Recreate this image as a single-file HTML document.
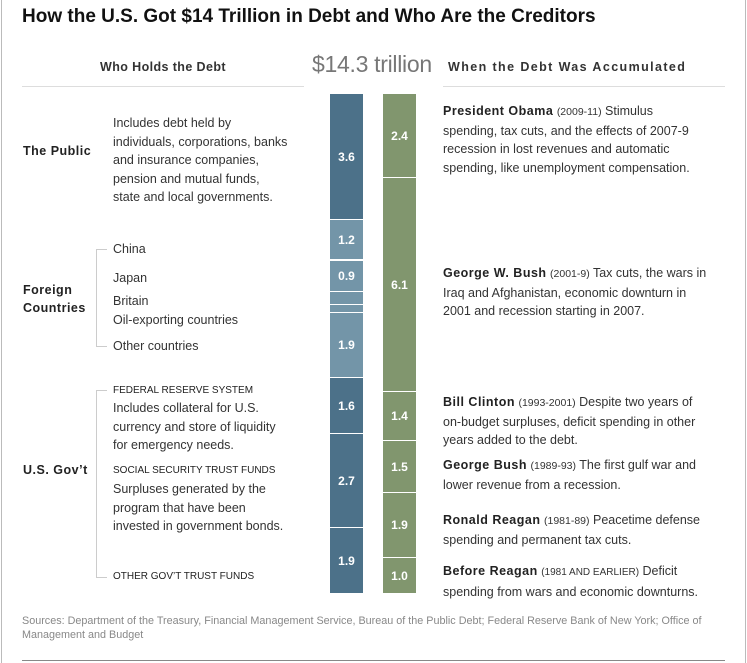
<!DOCTYPE html>
<html><head><meta charset="utf-8"><style>
body{margin:0;width:747px;height:663px;background:#fff;position:relative;overflow:hidden;font-family:"Liberation Sans",Arial,sans-serif;color:#222;}
.a{position:absolute;white-space:nowrap;}
.t{font-size:12.5px;line-height:18.6px;color:#333;}
.b{font-weight:bold;font-size:12.5px;letter-spacing:0.5px;color:#222;}
.sm{font-size:10px;color:#222;}
.seg{position:absolute;left:0;width:100%;color:#fff;font-weight:bold;font-size:12px;display:flex;align-items:center;justify-content:center;}
.bar{position:absolute;top:94px;height:499px;}
.br{position:absolute;border-left:1px solid #ccc;border-top:1px solid #ccc;border-bottom:1px solid #ccc;width:10px;}
</style></head><body>
<div class="a" style="top:0;width:1px;height:663px;background:#bbb;left:1px"></div>
<div class="a" style="left:745px;top:0;width:1px;height:663px;background:#bbb"></div>
<div class="a" style="left:22px;top:6px;font-size:19px;font-weight:bold;color:#111;">How the U.S. Got $14 Trillion in Debt and Who Are the Creditors</div>
<div class="a" style="left:100px;top:60px;font-size:12.5px;font-weight:bold;color:#333;letter-spacing:0.4px">Who Holds the Debt</div>
<div class="a" style="left:312px;top:51px;font-size:23px;color:#777;letter-spacing:-0.3px">$14.3 trillion</div>
<div class="a" style="left:448px;top:60px;font-size:12.5px;font-weight:bold;color:#333;letter-spacing:1.4px">When the Debt Was Accumulated</div>
<div class="a" style="left:22px;top:86px;width:282px;height:1px;background:#ddd"></div>
<div class="a" style="left:443px;top:86px;width:282px;height:1px;background:#ddd"></div>

<div class="bar" style="left:330px;width:33px;">
<div class="seg" style="top:0;height:125px;background:#4c7189">3.6</div>
<div class="seg" style="top:126px;height:39px;background:#7395a8">1.2</div>
<div class="seg" style="top:167px;height:30px;background:#7395a8">0.9</div>
<div class="seg" style="top:198px;height:12px;background:#7395a8"></div>
<div class="seg" style="top:211px;height:7px;background:#7395a8"></div>
<div class="seg" style="top:219px;height:64px;background:#7395a8">1.9</div>
<div class="seg" style="top:284px;height:55px;background:#4c7189">1.6</div>
<div class="seg" style="top:340px;height:93px;background:#4c7189">2.7</div>
<div class="seg" style="top:434px;height:65px;background:#4c7189">1.9</div>
</div>
<div class="bar" style="left:383px;width:33px;">
<div class="seg" style="top:0;height:83px;background:#81966e">2.4</div>
<div class="seg" style="top:84px;height:213px;background:#81966e">6.1</div>
<div class="seg" style="top:298px;height:48px;background:#81966e">1.4</div>
<div class="seg" style="top:347px;height:51px;background:#81966e">1.5</div>
<div class="seg" style="top:399px;height:64px;background:#81966e">1.9</div>
<div class="seg" style="top:464px;height:35px;background:#81966e">1.0</div>
</div>

<div class="a b" style="left:23px;top:144px">The Public</div>
<div class="a t" style="left:113px;top:114px">Includes debt held by<br>individuals, corporations, banks<br>and insurance companies,<br>pension and mutual funds,<br>state and local governments.</div>
<div class="a b" style="left:23px;top:281px;line-height:18px">Foreign<br>Countries</div>
<div class="br" style="left:96px;top:249px;height:96px"></div>
<div class="a t" style="left:113px;top:240px">China</div>
<div class="a t" style="left:113px;top:269px">Japan</div>
<div class="a t" style="left:113px;top:292px">Britain</div>
<div class="a t" style="left:113px;top:311px">Oil-exporting countries</div>
<div class="a t" style="left:113px;top:337px">Other countries</div>

<div class="a b" style="left:23px;top:463px">U.S. Gov’t</div>
<div class="br" style="left:96px;top:390px;height:186px"></div>
<div class="a sm" style="left:113px;top:385px">FEDERAL RESERVE SYSTEM</div>
<div class="a t" style="left:113px;top:399px">Includes collateral for U.S.<br>currency and store of liquidity<br>for emergency needs.</div>
<div class="a sm" style="left:113px;top:465px">SOCIAL SECURITY TRUST FUNDS</div>
<div class="a t" style="left:113px;top:480px">Surpluses generated by the<br>program that have been<br>invested in government bonds.</div>
<div class="a sm" style="left:113px;top:571px">OTHER GOV’T TRUST FUNDS</div>

<div class="a t" style="left:443px;top:102px"><b style="letter-spacing:.5px;color:#222">President Obama</b> <span style="font-size:10.5px">(2009-11)</span> Stimulus<br>spending, tax cuts, and the effects of 2007-9<br>recession in lost revenues and automatic<br>spending, like unemployment compensation.</div>
<div class="a t" style="left:443px;top:264px"><b style="letter-spacing:.5px;color:#222">George W. Bush</b> <span style="font-size:10.5px">(2001-9)</span> Tax cuts, the wars in<br>Iraq and Afghanistan, economic downturn in<br>2001 and recession starting in 2007.</div>
<div class="a t" style="left:443px;top:393px"><b style="letter-spacing:.5px;color:#222">Bill Clinton</b> <span style="font-size:10.5px">(1993-2001)</span> Despite two years of<br>on-budget surpluses, deficit spending in other<br>years added to the debt.</div>
<div class="a t" style="left:443px;top:456px"><b style="letter-spacing:.5px;color:#222">George Bush</b> <span style="font-size:10.5px">(1989-93)</span> The first gulf war and<br>lower revenue from a recession.</div>
<div class="a t" style="left:443px;top:511px"><b style="letter-spacing:.5px;color:#222">Ronald Reagan</b> <span style="font-size:10.5px">(1981-89)</span> Peacetime defense<br>spending and permanent tax cuts.</div>
<div class="a t" style="left:443px;top:562px"><b style="letter-spacing:.5px;color:#222">Before Reagan</b> <span style="font-size:10px">(1981 AND EARLIER)</span> Deficit<br>spending from wars and economic downturns.</div>

<div class="a" style="left:22px;top:614px;font-size:10.8px;line-height:14px;color:#888">Sources: Department of the Treasury, Financial Management Service, Bureau of the Public Debt; Federal Reserve Bank of New York; Office of<br>Management and Budget</div>
<div class="a" style="left:22px;top:660px;width:703px;height:1px;background:#888"></div>
</body></html>
